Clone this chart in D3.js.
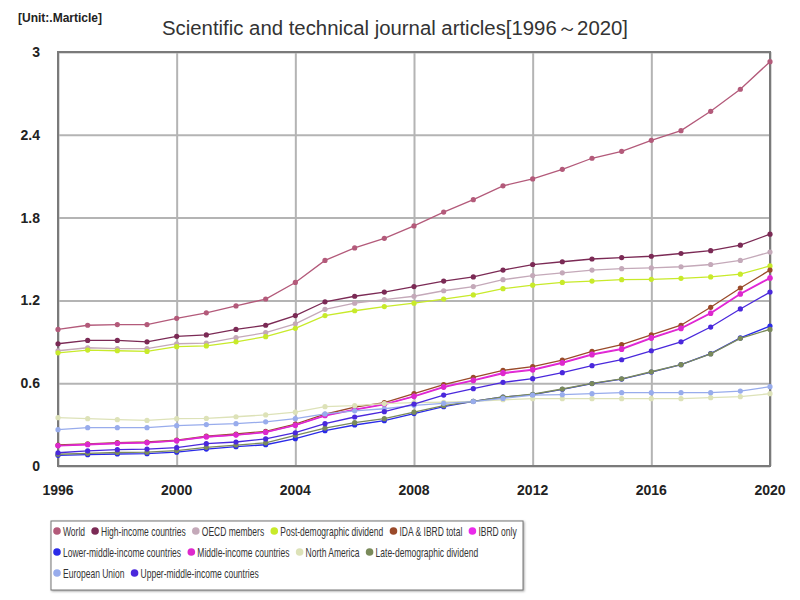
<!DOCTYPE html>
<html>
<head>
<meta charset="utf-8">
<script src="https://cdn.jsdelivr.net/npm/d3@7"></script>
<style>
  body { margin: 0; background: #fff; }
  svg { display: block; font-family: "Liberation Sans", Arial, sans-serif; }
  .tick-label { font-weight: bold; font-size: 14px; fill: #222; }
</style>
</head>
<body>
<div id="chart"></div>
<script>
// Data (unit: million articles), 1996-2020
const years = d3.range(1996, 2021);
const xTicks = [1996, 2000, 2004, 2008, 2012, 2016, 2020];
const yTicks = [0, 0.6, 1.2, 1.8, 2.4, 3];

const seriesNames = [
    'World', 'High-income countries', 'OECD members', 'Post-demographic dividend',
    'IDA & IBRD total', 'IBRD only', 'Lower-middle-income countries', 'Middle-income countries',
    'North America', 'Late-demographic dividend', 'European Union', 'Upper-middle-income countries'
];
const seriesColors = [
    '#b35a7a', '#7b2a55', '#c4a9b9', '#c8ea2a',
    '#9a4a2a', '#ea2aea', '#2a2ae8', '#dd28cc',
    '#dde2b8', '#7a8a5a', '#98acec', '#4a28dc'
];

const world = [0.99, 1.02, 1.025, 1.025, 1.07, 1.11, 1.16, 1.21, 1.33, 1.49, 1.58, 1.65, 1.74, 1.84, 1.93, 2.03, 2.08, 2.15, 2.23, 2.28, 2.36, 2.43, 2.57, 2.73, 2.93];
const highIncome = [0.886, 0.91, 0.91, 0.90, 0.94, 0.95, 0.99, 1.02, 1.09, 1.19, 1.23, 1.26, 1.30, 1.34, 1.37, 1.42, 1.46, 1.48, 1.50, 1.51, 1.52, 1.54, 1.56, 1.60, 1.68];
const oecd = [0.835, 0.857, 0.85, 0.85, 0.886, 0.89, 0.93, 0.966, 1.03, 1.135, 1.18, 1.205, 1.23, 1.27, 1.30, 1.35, 1.38, 1.40, 1.42, 1.43, 1.435, 1.444, 1.46, 1.49, 1.55];
const postDemographic = [0.82, 0.84, 0.835, 0.83, 0.865, 0.87, 0.90, 0.937, 0.998, 1.09, 1.125, 1.155, 1.18, 1.21, 1.24, 1.285, 1.31, 1.33, 1.34, 1.35, 1.353, 1.36, 1.37, 1.39, 1.45];
const idaIbrd = [0.152, 0.16, 0.169, 0.174, 0.188, 0.217, 0.232, 0.251, 0.304, 0.375, 0.427, 0.459, 0.524, 0.59, 0.643, 0.693, 0.72, 0.768, 0.83, 0.88, 0.95, 1.02, 1.15, 1.29, 1.42];
const ibrdOnly = [0.148, 0.156, 0.165, 0.17, 0.184, 0.212, 0.226, 0.245, 0.297, 0.367, 0.41, 0.449, 0.507, 0.575, 0.623, 0.676, 0.70, 0.75, 0.81, 0.85, 0.93, 1.00, 1.11, 1.25, 1.365];
const lowerMiddle = [0.077, 0.082, 0.087, 0.089, 0.10, 0.123, 0.14, 0.154, 0.198, 0.256, 0.297, 0.328, 0.38, 0.43, 0.469, 0.50, 0.517, 0.556, 0.597, 0.63, 0.681, 0.734, 0.814, 0.928, 1.014];
const middleIncome = [0.146, 0.154, 0.163, 0.168, 0.182, 0.21, 0.224, 0.243, 0.294, 0.364, 0.406, 0.445, 0.503, 0.57, 0.618, 0.67, 0.695, 0.745, 0.805, 0.845, 0.925, 0.995, 1.105, 1.245, 1.36];
const northAmerica = [0.35, 0.343, 0.336, 0.33, 0.343, 0.345, 0.357, 0.37, 0.39, 0.43, 0.437, 0.452, 0.459, 0.462, 0.469, 0.48, 0.488, 0.488, 0.488, 0.488, 0.488, 0.488, 0.495, 0.502, 0.524];
const lateDemographic = [0.085, 0.092, 0.098, 0.10, 0.112, 0.135, 0.152, 0.168, 0.222, 0.275, 0.314, 0.343, 0.39, 0.437, 0.469, 0.50, 0.52, 0.558, 0.598, 0.632, 0.683, 0.734, 0.812, 0.925, 0.99];
const europeanUnion = [0.263, 0.278, 0.278, 0.278, 0.292, 0.30, 0.307, 0.32, 0.343, 0.377, 0.40, 0.415, 0.44, 0.454, 0.467, 0.49, 0.514, 0.517, 0.524, 0.531, 0.531, 0.531, 0.531, 0.543, 0.575];
const upperMiddle = [0.096, 0.11, 0.118, 0.123, 0.133, 0.162, 0.174, 0.196, 0.241, 0.307, 0.355, 0.394, 0.449, 0.514, 0.56, 0.606, 0.633, 0.676, 0.727, 0.77, 0.835, 0.90, 1.007, 1.138, 1.26];

const seriesValues = [
    world, highIncome, oecd, postDemographic,
    idaIbrd, ibrdOnly, lowerMiddle, middleIncome,
    northAmerica, lateDemographic, europeanUnion, upperMiddle
];

const series = seriesNames.map((name, i) => ({
    name: name,
    color: seriesColors[i],
    values: years.map((y, j) => ({ year: y, value: seriesValues[i][j] }))
}));

// Layout
const W = 800, H = 600;
const margin = { top: 52, right: 30, bottom: 134, left: 58 };
const plotW = W - margin.left - margin.right;
const plotH = H - margin.top - margin.bottom;

const svg = d3.select('#chart').append('svg')
    .attr('width', W)
    .attr('height', H);

const x = d3.scaleLinear().domain([1996, 2020]).range([0, plotW]);
const y = d3.scaleLinear().domain([0, 3]).range([plotH, 0]);

const g = svg.append('g')
    .attr('transform', `translate(${margin.left},${margin.top})`);

// Grid
g.append('g')
    .call(d3.axisLeft(y).tickValues(yTicks).tickSize(-plotW).tickFormat(''))
    .call(s => s.select('.domain').remove())
    .selectAll('line').attr('stroke', '#b4b4b4').attr('stroke-width', 2);

g.append('g')
    .attr('transform', `translate(0,${plotH})`)
    .call(d3.axisBottom(x).tickValues(xTicks).tickSize(-plotH).tickFormat(''))
    .call(s => s.select('.domain').remove())
    .selectAll('line').attr('stroke', '#b4b4b4').attr('stroke-width', 2);

// Border
g.append('rect')
    .attr('width', plotW)
    .attr('height', plotH)
    .attr('fill', 'none')
    .attr('stroke', '#7a7a7a')
    .attr('stroke-width', 2);

// Tick labels
g.selectAll('.ylab')
    .data(yTicks)
    .enter().append('text')
    .attr('class', 'tick-label')
    .attr('x', -18)
    .attr('y', d => y(d) + 5)
    .attr('text-anchor', 'end')
    .text(d => d3.format('~g')(d));

g.selectAll('.xlab')
    .data(xTicks)
    .enter().append('text')
    .attr('class', 'tick-label')
    .attr('x', d => x(d))
    .attr('y', plotH + 29)
    .attr('text-anchor', 'middle')
    .attr('font-size', 15)
    .text(d => d);

// Lines
const line = d3.line()
    .x(d => x(d.year))
    .y(d => y(d.value));

const sg = g.selectAll('.series')
    .data(series)
    .enter().append('g')
    .attr('class', 'series');

sg.append('path')
    .attr('d', d => line(d.values))
    .attr('fill', 'none')
    .attr('stroke', d => d.color)
    .attr('stroke-width', 1.3);

sg.selectAll('circle')
    .data(d => d.values.map(v => ({ ...v, color: d.color })))
    .enter().append('circle')
    .attr('cx', d => x(d.year))
    .attr('cy', d => y(d.value))
    .attr('r', 2.6)
    .attr('fill', d => d.color);

// Title and unit
svg.append('text')
    .attr('x', 395)
    .attr('y', 35)
    .attr('text-anchor', 'middle')
    .attr('font-size', 20)
    .attr('fill', '#333')
    .attr('textLength', 466)
    .attr('lengthAdjust', 'spacingAndGlyphs')
    .text('Scientific and technical journal articles[1996～2020]');

svg.append('text')
    .attr('x', 18)
    .attr('y', 22)
    .attr('font-size', 12)
    .attr('font-weight', 'bold')
    .attr('fill', '#222')
    .text('[Unit:.Marticle]');

// Legend (flow layout, narrow text)
const legendX = 51, legendY = 521, legendRight = 527;
const squeeze = 0.655;
const legend = svg.append('g');
const legendBox = legend.append('rect')
    .attr('x', legendX)
    .attr('y', legendY)
    .attr('fill', '#fff')
    .attr('stroke', '#777')
    .attr('stroke-width', 1)
    .style('filter', 'drop-shadow(1px 1px 1px rgba(0,0,0,0.35))');

let cx = legendX + 6, row = 0;
const rowH = 21;
series.forEach(s => {
    const item = legend.append('g');
    const t = item.append('text')
        .attr('font-size', 13)
        .attr('fill', '#333')
        .text(s.name);
    const w = t.node().getComputedTextLength() * squeeze;
    if (cx + 6 + w > legendRight && cx > legendX + 6) {
        row += 1;
        cx = legendX + 6;
    }
    const cy = legendY + 10 + row * rowH;
    item.append('circle')
        .attr('cx', cx)
        .attr('cy', cy)
        .attr('r', 3.8)
        .attr('fill', s.color);
    t.attr('transform', `translate(${cx + 6},${cy + 4.5}) scale(${squeeze},1)`);
    cx += 6 + w + 10;
});

legendBox
    .attr('width', 472)
    .attr('height', (row + 1) * rowH + 6);
</script>
</body>
</html>
